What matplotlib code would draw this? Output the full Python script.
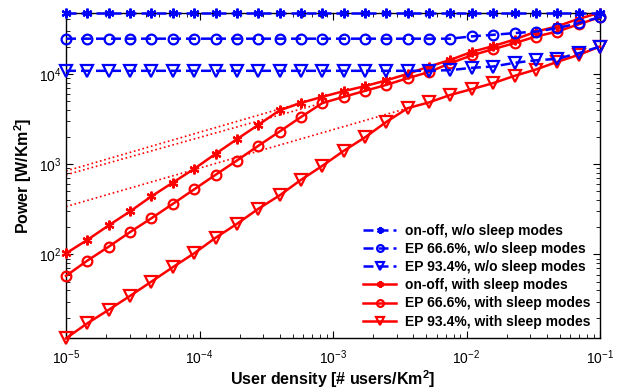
import numpy as np
import matplotlib
matplotlib.use("Agg")
import matplotlib.pyplot as plt

plt.rcParams['font.family'] = ['Liberation Sans', 'DejaVu Sans']
plt.rcParams['mathtext.fontset'] = 'custom'
plt.rcParams['mathtext.rm'] = 'Liberation Sans'
plt.rcParams['mathtext.bf'] = 'Liberation Sans:bold'

# user density grid, 26 points per curve
density = np.logspace(-5, -1, 26)

# w/o sleep modes (blue, dashed)
onoff_nosleep = [47500] * 26
ep666_nosleep = [24500] * 19 + [26000, 27040, 28250, 29380, 32060, 36380, 42460]
ep934_nosleep = [10800] * 18 + [11000, 11650, 12050, 13240, 14120, 14650, 16930, 20050]

# with sleep modes (red, solid)
onoff_sleep = [103, 145, 210, 300, 440, 625, 887, 1300, 1890, 2720, 3940, 4770, 5560,
               6430, 7310, 8470, 10000, 12050, 14290, 17530, 20280, 23990, 29310,
               33570, 40640, 47500]
ep666_sleep = [58, 85.5, 122, 177, 252, 363, 526, 762, 1096, 1595, 2296, 3323, 4740,
               5560, 6480, 7550, 8960, 10470, 13140, 16030, 18780, 21880, 25880,
               29380, 35320, 42460]
ep934_sleep = [11.8, 17.3, 24.4, 34.8, 50.1, 72.3, 103, 153, 218, 320, 451, 670, 958,
               1403, 1982, 2940, 4170, 4830, 5850, 6770, 7890, 9500, 11160, 13580,
               16220, 20050]

# dotted extensions (start at 1e-5, end where they meet the solid curves)
dot_onoff_x = [1e-5, 5.75e-4]
dot_onoff_y = [840, 4770]
dot_ep666_x = [1e-5, 8.3e-4]
dot_ep666_y = [762, 4740]
dot_ep934_x = [1e-5, 3.63e-3]
dot_ep934_y = [339, 4170]

labels = ["on-off, w/o sleep modes", "EP 66.6%, w/o sleep modes",
          "EP 93.4%, w/o sleep modes", "on-off, with sleep modes",
          "EP 66.6%, with sleep modes", "EP 93.4%, with sleep modes"]

fig = plt.figure(figsize=(6.18, 3.91), dpi=100)
ax = fig.add_axes([0.1068, 0.1348, 0.8641, 0.8327])

red = (1, 0, 0)
blue = (0, 0, 1)
star = (6, 2, 0)

for xs, ys in [(dot_onoff_x, dot_onoff_y), (dot_ep666_x, dot_ep666_y), (dot_ep934_x, dot_ep934_y)]:
    ax.plot(xs, ys, ':', color=red, lw=1.2, zorder=2)

h = []
kw_b = dict(color=blue, ls=(0, (4, 2)), lw=1.8, mfc='none', mec=blue, mew=1.6, zorder=4, clip_on=False)
h += ax.plot(density, onoff_nosleep, marker=star, ms=7, **kw_b)
h += ax.plot(density, ep666_nosleep, marker='o', ms=7, **kw_b)
h += ax.plot(density, ep934_nosleep, marker='v', ms=8, **kw_b)

kw_r = dict(color=red, ls='-', lw=1.8, mfc='none', mec=red, mew=1.6, zorder=3, clip_on=False)
h += ax.plot(density, onoff_sleep, marker=star, ms=7, **kw_r)
h += ax.plot(density, ep666_sleep, marker='o', ms=7, **kw_r)
h += ax.plot(density, ep934_sleep, marker='v', ms=8, **kw_r)

ax.set_xscale('log')
ax.set_yscale('log')
ax.set_xlim(1e-5, 1e-1)
ax.set_ylim(11.8, 47500)
ax.set_xticks([1e-5, 1e-4, 1e-3, 1e-2, 1e-1])
ax.set_yticks([1e2, 1e3, 1e4])

ax.tick_params(which='both', direction='in', top=True, right=True, labelsize=10)
ax.tick_params(which='major', length=5, width=0.8)
ax.tick_params(which='minor', length=3, width=0.6)
ax.tick_params(axis='x', which='major', pad=7)
for s in ax.spines.values():
    s.set_linewidth(1.0)

ax.set_xlabel("User density [# users/Km$^\\mathbf{2}$]", fontsize=11.5, fontweight='bold', labelpad=1)
ax.set_ylabel("Power [W/Km$^\\mathbf{2}$]", fontsize=11.5, fontweight='bold', labelpad=3)

leg = ax.legend(h, labels, loc='lower right', bbox_to_anchor=(1.0, 0.0), frameon=False,
                prop={'weight': 'bold', 'size': 10}, handlelength=2.4, handletextpad=0.6,
                labelspacing=0.3, borderaxespad=0.3, markerscale=0.7)

fig.savefig("out.png", dpi=100)
